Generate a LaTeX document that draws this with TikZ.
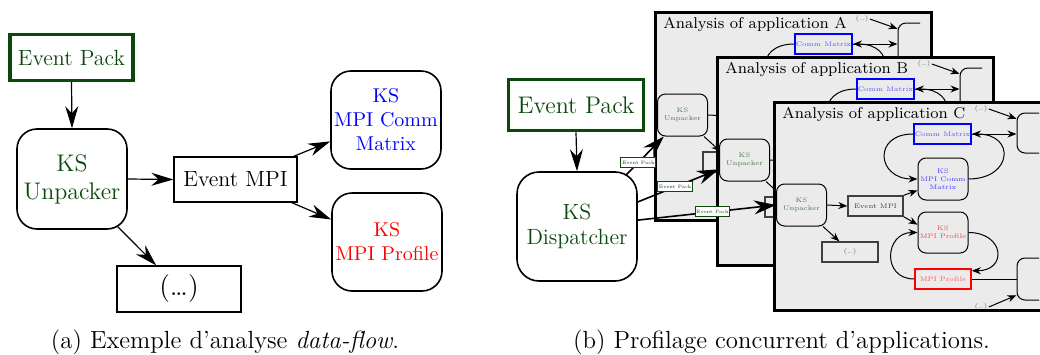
\documentclass[tikz,border=0pt]{standalone}
\usepackage{tikz}
\usetikzlibrary{arrows.meta,positioning}
\definecolor{evgreen}{RGB}{12,72,12}
\definecolor{appgray}{RGB}{235,235,235}
\newcommand{\appfont}{\fontsize{3.3}{3.9}\selectfont}
\tikzset{
  packbox/.style={draw=evgreen, line width=1.6pt, text=evgreen, inner sep=2pt},
  ksbox/.style={draw, thick, rounded corners=10pt, align=center, inner sep=1pt},
  evbox/.style={draw, semithick, inner sep=2pt},
  bigarr/.style={-{Stealth[length=11pt,width=6.5pt]}, semithick},
  disparr/.style={-{Stealth[length=11pt,width=7pt]}, line width=0.8pt},
  evtag/.style={draw=evgreen, fill=white, text=evgreen, line width=0.5pt, inner sep=0.6pt,
      minimum width=14.5pt, minimum height=5pt, font=\fontsize{2.4}{2.8}\selectfont},
  appframe/.style={line width=1.5pt},
  apptitle/.style={font=\fontsize{7.8}{9}\selectfont, inner sep=0pt},
  appks/.style={draw, line width=0.5pt, rounded corners=4pt, align=center, inner sep=0.5pt,
      font=\appfont, minimum width=25pt, minimum height=21pt},
  appev/.style={draw=black!75, line width=0.7pt, inner sep=0.5pt, font=\appfont,
      minimum width=27.5pt, minimum height=10pt},
  appout/.style={draw, line width=0.5pt, rounded corners=4pt, minimum width=30pt, minimum height=20pt},
  appdots/.style={font=\appfont, text=black!60, inner sep=0.5pt},
  apparr/.style={-{Stealth[length=4.5pt,width=3.5pt]}, line width=0.5pt},
  capstyle/.style={font=\fontsize{12.4}{15}\selectfont},
}
\newcommand{\appview}[3]{%
  \begin{scope}[shift={#2}]
    \fill[appgray] (0,0) rectangle (276,208);
    \begin{scope}
      \clip (0,0) rectangle (265,208);
      \node[apptitle, anchor=base west] (#1-title) at (8,16) {Analysis of application #3};
      \node[appks, text=evgreen!75] (#1-unp) at (27.5,103) {KS\\Unpacker};
      \node[appev, text=black!75] (#1-mpi) at (101.5,104) {Event MPI};
      \node[appev, text=black!60, minimum width=28pt] (#1-etc) at (76,150) {(\ldots)};
      \node[appks, text=blue!75] (#1-kscm) at (169,77) {KS\\MPI Comm\\Matrix};
      \node[appks, text=red!75, minimum height=20.5pt] (#1-ksprof) at (169,130.5) {KS\\MPI Profile};
      \node[appev, draw=blue, line width=0.8pt, text=blue!65] (#1-cm) at (168.5,32) {Comm Matrix};
      \node[appev, draw=red, line width=0.8pt, text=red!65, minimum width=28pt] (#1-mp) at (169,177) {MPI Profile};
      \node[appout] (#1-top) at (273,31) {};
      \node[appout, minimum height=21pt] (#1-bot) at (273,177) {};
      \node[appdots] (#1-dtop) at (207,7) {(\ldots)};
      \node[appdots] (#1-dbot) at (207,205) {(\ldots)};
      \draw[apparr] (#1-unp.east) -- (#1-mpi.west);
      \draw[apparr] (#1-unp.-45) -- (#1-etc.135);
      \draw[apparr] (#1-mpi.north east) -- (#1-kscm.204);
      \draw[apparr] (#1-mpi.south east) -- (#1-ksprof.163);
      \draw[apparr] (#1-cm.west) to[out=180, in=180, looseness=2.3] (#1-kscm.west);
      \draw[apparr] (#1-kscm.east) to[out=0, in=0, looseness=2.5] (#1-cm.east);
      \draw[apparr] (#1-mp.west) to[out=180, in=180, looseness=1.8] (#1-ksprof.west);
      \draw[apparr] (#1-ksprof.east) to[out=0, in=0, looseness=2.4] (#1-mp.16);
      \draw[apparr] (#1-cm.east) -- (#1-cm.east -| #1-top.west);
      \draw[line width=0.5pt] (#1-mp.east) -- (#1-mp.east -| #1-bot.west);
      \draw[apparr] (#1-dtop.east) -- (#1-top.155);
      \draw[apparr] (#1-dbot.east) -- (#1-bot.208);
    \end{scope}
    \draw[appframe] (0,0) rectangle (276,208);
  \end{scope}}

\begin{document}
\begin{tikzpicture}[x=0.5pt, y=-0.5pt]
  \useasboundingbox (0,0) rectangle (1040,354);
  \clip (0,0) rectangle (1040,354);

  % (a) data-flow
  \node[packbox, minimum width=61.5pt, minimum height=23pt, font=\fontsize{11}{13}\selectfont] (lpack) at (71.5,57.5) {Event Pack};
  \node[ksbox, text=evgreen, minimum width=55pt, minimum height=50pt, font=\large] (lunp) at (72,179) {KS\\Unpacker};
  \node[evbox, minimum width=61.5pt, minimum height=22.5pt, font=\fontsize{11}{13}\selectfont] (lmpi) at (235.5,179.5) {Event MPI};
  \node[ksbox, text=blue, minimum width=55pt, minimum height=49pt] (lcm) at (386,120) {KS\\MPI Comm\\Matrix};
  \node[ksbox, text=red, minimum width=55pt, minimum height=49pt] (lprof) at (387,242) {KS\\MPI Profile};
  \node[evbox, minimum width=62pt, minimum height=23pt, font=\fontsize{14}{16}\selectfont] (letc) at (179,289) {(\ldots)};
  \draw[bigarr] (lpack.south) -- (lunp.north);
  \draw[bigarr] (lunp.east) -- (lmpi.west);
  \draw[bigarr] ([xshift=-5pt,yshift=1.5pt]lunp.south east) -- (letc.134);
  \draw[bigarr] ([xshift=-2pt]lmpi.north east) -- (lcm.201);
  \draw[bigarr] ([xshift=-3pt]lmpi.south east) -- (lprof.158);

  % (b) concurrent analyses
  \appview{A}{(655,12)}{A}
  \appview{B}{(717,57)}{B}
  \appview{C}{(774,102)}{C}
  \node[packbox, line width=1.8pt, minimum width=67.5pt, minimum height=25.5pt, font=\large] (rpack) at (576,105) {Event Pack};
  \node[ksbox, text=evgreen, rounded corners=11pt, minimum width=60pt, minimum height=54.5pt, font=\fontsize{11}{12.5}\selectfont] (rdisp) at (577,226.5) {KS\\Dispatcher};
  \draw[bigarr] (rpack.south) -- (rdisp.north);
  \draw[disparr] ([xshift=-6pt,yshift=-2pt]rdisp.north east) -- node[evtag, pos=0.33] (tagA) {Event Pack} (A-unp.229);
  \draw[disparr] (rdisp.22) -- node[evtag, pos=0.46] (tagB) {Event Pack} (B-unp.200);
  \draw[disparr] (rdisp.6) -- node[evtag, pos=0.54] (tagC) {Event Pack} (C-unp.west);

  \node[capstyle] (capa) at (225,342) {(a) Exemple d'analyse \emph{data-flow}.};
  \node[capstyle] (capb) at (781.5,342) {(b) Profilage concurrent d'applications.};
\end{tikzpicture}
\end{document}
